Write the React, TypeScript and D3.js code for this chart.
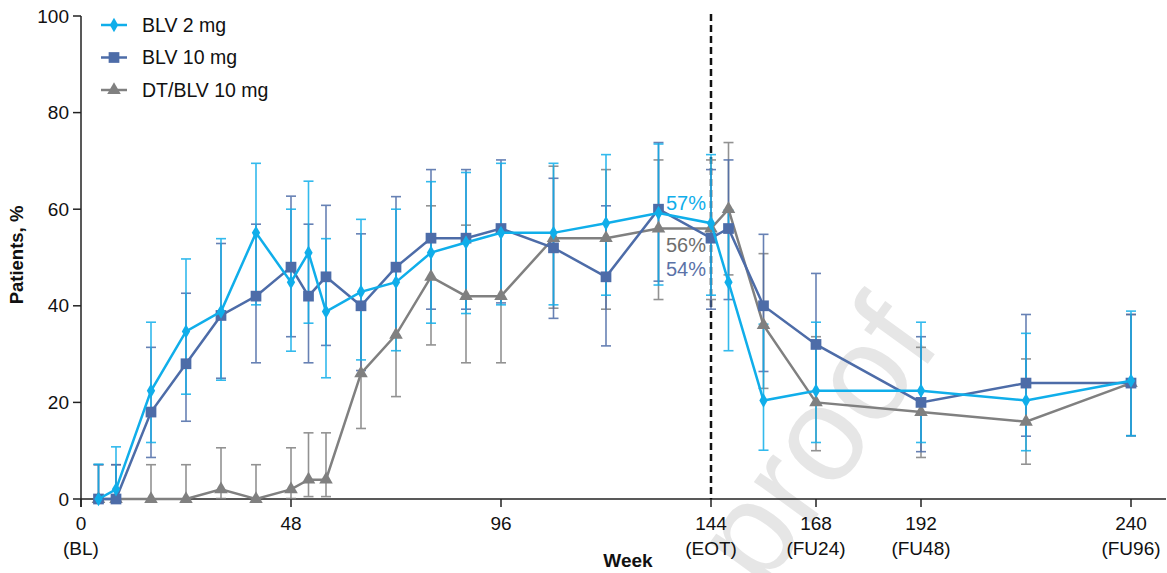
import React from 'react';
import * as d3 from 'd3';

const weeks = [4, 8, 16, 24, 32, 40, 48, 52, 56, 64, 72, 80, 88, 96, 108, 120, 132, 144, 148, 156, 168, 192, 216, 240];

const blv2 = [0, 2, 22.4, 34.7, 38.8, 55.1, 44.9, 51, 38.8, 42.9, 44.9, 51, 53.1, 55.1, 55.1, 57.1, 59.2, 57.1, 44.9, 20.4, 22.4, 22.4, 20.4, 24.5];
const blv2Hi = [7.2, 10.8, 36.6, 49.7, 53.9, 69.5, 60, 65.8, 53.9, 57.9, 60, 65.7, 67.6, 69.5, 69.5, 71.3, 73.5, 71.3, 59.8, 36.2, 36.6, 36.6, 34.3, 38.9];
const blv2Lo = [0, 0, 11.7, 21.7, 24.6, 40.2, 30.6, 36.4, 25.1, 28.8, 30.7, 36.4, 38.4, 40.2, 40.2, 42.2, 44.3, 42.2, 30.7, 10.1, 11.7, 11.7, 10, 13.1];

const blv10 = [0, 0, 18, 28, 38, 42, 48, 42, 46, 40, 48, 54, 54, 56, 52, 46, 60, 54, 56, 40, 32, 20, 24, 24];
const blv10Hi = [7.1, 7.1, 31.4, 42.6, 52.9, 56.9, 62.7, 56.9, 60.8, 54.9, 62.6, 68.2, 68.2, 70.2, 66.4, 60.7, 73.8, 68.2, 70.2, 54.8, 46.7, 33.6, 38.2, 38.2];
const blv10Lo = [0, 0, 8.6, 16.1, 25, 28.2, 33.6, 28.2, 31.8, 26.6, 33.7, 39.3, 39.3, 40.6, 37.4, 31.7, 45.1, 39.3, 41.3, 26.4, 19.5, 9.8, 13, 13.1];

const dtBlv = [0, 0, 0, 0, 2, 0, 2, 4, 4, 26, 34, 46, 42, 42, 54, 54, 56, 56, 60, 36, 20, 18, 16, 24];
const dtBlvHi = [7.1, 7.1, 7.1, 7.1, 10.6, 7.1, 10.6, 13.7, 13.7, 39.7, 48.1, 60.7, 56.7, 56.7, 68.9, 68.2, 70.2, 70.2, 73.8, 50.8, 33.6, 31.4, 29, 38.2];
const dtBlvLo = [0, 0, 0, 0, 0.1, 0, 0.1, 0.5, 0.5, 14.6, 21.2, 31.9, 28.2, 28.2, 39.5, 39.3, 41.3, 41.3, 46.4, 22.9, 10, 8.6, 7.2, 13.1];

const xTicks = [0, 48, 96, 144, 168, 192, 240];
const xTickSub = ['(BL)', '', '', '(EOT)', '(FU24)', '(FU48)', '(FU96)'];
const yTicks = [0, 20, 40, 60, 80, 100];

const series = [
  { name: 'DT/BLV 10 mg', values: dtBlv, hi: dtBlvHi, lo: dtBlvLo, color: '#808080', symbol: d3.symbolTriangle, size: 80 },
  { name: 'BLV 10 mg', values: blv10, hi: blv10Hi, lo: blv10Lo, color: '#4d6ca8', symbol: d3.symbolSquare, size: 115 },
  { name: 'BLV 2 mg', values: blv2, hi: blv2Hi, lo: blv2Lo, color: '#10aeea', symbol: d3.symbolDiamond, size: 60 },
];

const endLabels = [
  { text: '57%', color: '#10aeea', y: 203 },
  { text: '56%', color: '#6e6e6e', y: 245 },
  { text: '54%', color: '#5a72a8', y: 269 },
];

const W = 1167;
const H = 573;
const font = '"Liberation Sans", Arial, sans-serif';

export default function App() {
  const x = d3.scaleLinear().domain([0, 240]).range([81, 1131]);
  const y = d3.scaleLinear().domain([0, 100]).range([499, 16]);

  const line = d3.line<number>()
    .x((_, i) => x(weeks[i]))
    .y(d => y(d));

  const legend = [...series].reverse();

  return (
    <svg width={W} height={H} style={{ position: 'absolute', left: 0, top: 0, fontFamily: font }}>
      <rect width={W} height={H} fill="#fff" />

      {/* watermark, partly off the bottom edge as in the source */}
      <text
        transform="translate(762,592) rotate(-54)"
        fontSize={135}
        fill="#e6e6e6"
        fontFamily={font}
      >
        proof
      </text>

      {/* axes */}
      <line x1={81} x2={1166} y1={y(0)} y2={y(0)} stroke="#222" strokeWidth={1.5} />
      <line x1={81} x2={81} y1={y(100)} y2={y(0) + 8} stroke="#222" strokeWidth={1.5} />
      {yTicks.map(t => (
        <g key={t}>
          <line x1={73} x2={81} y1={y(t)} y2={y(t)} stroke="#222" strokeWidth={1.5} />
          <text x={69} y={y(t)} dy="0.35em" textAnchor="end" fontSize={19} fill="#111">{t}</text>
        </g>
      ))}
      {xTicks.map((t, i) => (
        <g key={t}>
          <line x1={x(t)} x2={x(t)} y1={y(0)} y2={y(0) + 8} stroke="#222" strokeWidth={1.5} />
          <text x={x(t)} y={530} textAnchor="middle" fontSize={19} fill="#111">{t}</text>
          {xTickSub[i] && (
            <text x={x(t)} y={555} textAnchor="middle" fontSize={19} fill="#111">{xTickSub[i]}</text>
          )}
        </g>
      ))}
      <text x={628} y={567} textAnchor="middle" fontSize={19} fontWeight="bold" fill="#111">Week</text>
      <text transform="translate(23,255) rotate(-90)" textAnchor="middle" fontSize={18.5} fontWeight="bold" fill="#111">
        Patients, %
      </text>

      {/* end of treatment */}
      <line x1={x(144)} x2={x(144)} y1={14} y2={y(0)} stroke="#111" strokeWidth={2.5} strokeDasharray="7,4" />

      {/* error bars */}
      {series.map(s => (
        <g key={s.name + 'err'} stroke={s.color} strokeWidth={1.6} opacity={0.85}>
          {weeks.map((w, i) => (
            <g key={w}>
              <line x1={x(w)} x2={x(w)} y1={y(s.lo[i])} y2={y(s.hi[i])} />
              <line x1={x(w) - 5} x2={x(w) + 5} y1={y(s.hi[i])} y2={y(s.hi[i])} />
              <line x1={x(w) - 5} x2={x(w) + 5} y1={y(s.lo[i])} y2={y(s.lo[i])} />
            </g>
          ))}
        </g>
      ))}

      {/* lines and markers */}
      {series.map(s => (
        <g key={s.name}>
          <path d={line(s.values) || ''} fill="none" stroke={s.color} strokeWidth={2.5} />
          {s.values.map((v, i) => (
            <path
              key={i}
              d={d3.symbol(s.symbol, s.size)() || ''}
              transform={`translate(${x(weeks[i])},${y(v)})`}
              fill={s.color}
            />
          ))}
        </g>
      ))}

      {endLabels.map(l => (
        <text key={l.text} x={666} y={l.y} dy="0.35em" fontSize={20} fill={l.color}>{l.text}</text>
      ))}

      {/* legend */}
      {legend.map((s, i) => {
        const ly = 25 + i * 32.5;
        return (
          <g key={s.name + 'lg'}>
            <line x1={101} x2={127} y1={ly} y2={ly} stroke={s.color} strokeWidth={2.5} />
            <path d={d3.symbol(s.symbol, s.size)() || ''} transform={`translate(114,${ly})`} fill={s.color} />
            <text x={142} y={ly} dy="0.35em" fontSize={19.5} fill="#111">{s.name}</text>
          </g>
        );
      })}
    </svg>
  );
}
